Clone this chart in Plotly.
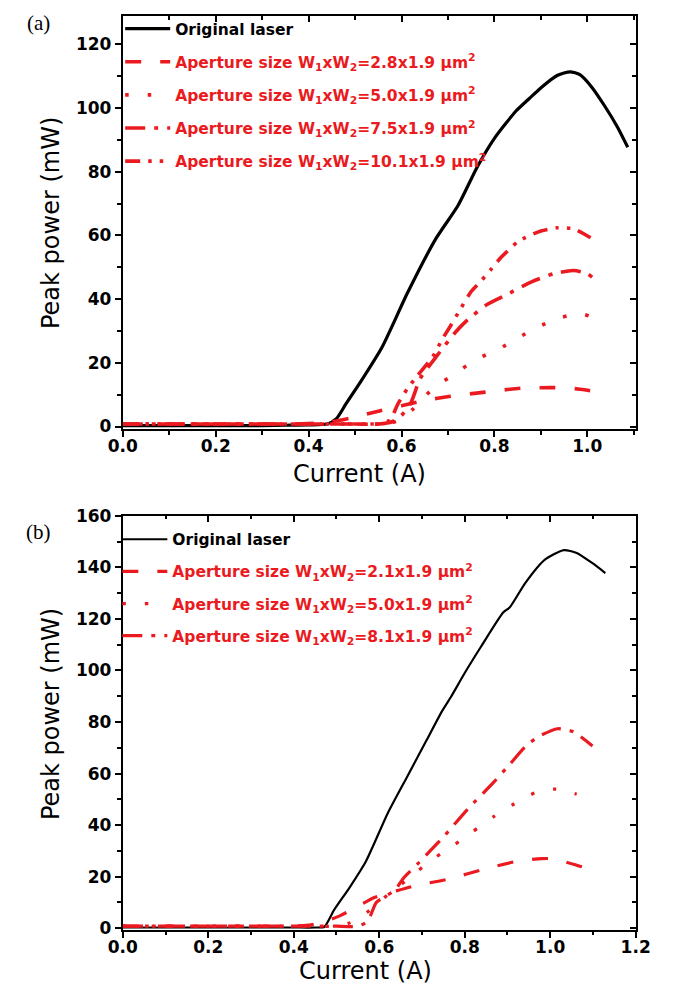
import plotly.graph_objects as go

RED = "#ea1a20"
BLACK = "#000000"

# ---------------- (a) ----------------
cur_a_orig = [0.00, 0.05, 0.10, 0.15, 0.20, 0.25, 0.30, 0.35, 0.40, 0.44, 0.46, 0.48, 0.51,
              0.558, 0.613, 0.674, 0.722, 0.763, 0.80, 0.846, 0.875, 0.901, 0.936, 0.963,
              0.984, 1.01, 1.038, 1.065, 1.087]
pow_a_orig = [0.3, 0.3, 0.3, 0.3, 0.3, 0.3, 0.3, 0.4, 0.5, 0.8, 2.5, 7.0, 13.6,
              24.9, 42.0, 59.0, 69.5, 81.5, 90.5, 99.0, 103.0, 106.5, 110.3, 111.4,
              110.5, 106.5, 100.5, 94.0, 87.7]

cur_a_28 = [0.00, 0.05, 0.10, 0.15, 0.20, 0.25, 0.30, 0.35, 0.40, 0.45, 0.50, 0.55, 0.60,
            0.65, 0.705, 0.78, 0.855, 0.93, 0.98, 1.025]
pow_a_28 = [0.8, 0.8, 0.8, 0.8, 0.8, 0.8, 0.8, 0.8, 0.9, 1.5, 3.0, 4.8, 6.5,
            8.2, 9.5, 10.8, 12.0, 12.2, 11.8, 10.8]

cur_a_50 = [0.00, 0.05, 0.10, 0.15, 0.20, 0.25, 0.30, 0.35, 0.40, 0.45, 0.50, 0.55, 0.58,
            0.60, 0.625, 0.65, 0.674, 0.716, 0.76, 0.808, 0.853, 0.894, 0.942, 0.987, 1.031]
pow_a_50 = [0.8, 0.8, 0.8, 0.8, 0.8, 0.8, 0.8, 0.8, 0.8, 0.8, 0.8, 0.8, 1.2,
            2.5, 5.5, 9.5, 12.6, 16.7, 21.0, 24.2, 28.0, 31.3, 34.2, 35.4, 33.0]

cur_a_75 = [0.00, 0.05, 0.10, 0.15, 0.20, 0.25, 0.30, 0.35, 0.40, 0.45, 0.50, 0.55, 0.58,
            0.60, 0.62, 0.64, 0.674, 0.716, 0.743, 0.784, 0.826, 0.881, 0.928, 0.97, 1.00, 1.025]
pow_a_75 = [0.8, 0.8, 0.8, 0.8, 0.8, 0.8, 0.8, 0.8, 0.8, 0.8, 0.8, 0.8, 1.5,
            3.5, 7.4, 15.0, 21.8, 29.6, 33.6, 38.3, 41.4, 45.5, 48.0, 49.0, 48.0, 45.0]

cur_a_101 = [0.00, 0.05, 0.10, 0.15, 0.20, 0.25, 0.30, 0.35, 0.40, 0.45, 0.50, 0.55, 0.575,
             0.592, 0.613, 0.633, 0.667, 0.688, 0.705, 0.726, 0.75, 0.77, 0.794, 0.815,
             0.853, 0.90, 0.935, 0.97, 1.007]
pow_a_101 = [0.8, 0.8, 0.8, 0.8, 0.8, 0.8, 0.8, 0.8, 0.8, 0.8, 0.8, 0.8, 2.0,
             7.0, 12.0, 15.7, 21.9, 27.5, 31.5, 36.7, 42.4, 45.5, 49.6, 53.2,
             58.3, 61.4, 62.4, 62.1, 59.3]

# ---------------- (b) ----------------
cur_b_orig = [0.00, 0.05, 0.10, 0.15, 0.20, 0.25, 0.30, 0.35, 0.40, 0.45, 0.472, 0.494, 0.531,
              0.569, 0.621, 0.666, 0.711, 0.748, 0.767, 0.80, 0.838, 0.89, 0.905, 0.942,
              0.987, 1.032, 1.062, 1.099, 1.129]
pow_b_orig = [0.3, 0.3, 0.3, 0.3, 0.3, 0.3, 0.3, 0.3, 0.3, 0.3, 0.6, 7.0, 15.9,
              26.0, 45.0, 59.0, 73.0, 84.5, 89.5, 99.0, 109.2, 122.5, 124.4, 134.0,
              142.9, 146.7, 145.6, 141.6, 137.8]

cur_b_21 = [0.00, 0.05, 0.10, 0.15, 0.20, 0.25, 0.30, 0.35, 0.40, 0.44, 0.47, 0.51, 0.55,
            0.59, 0.64, 0.684, 0.76, 0.845, 0.923, 0.98, 1.006, 1.03, 1.08, 1.10]
pow_b_21 = [0.8, 0.8, 0.8, 0.8, 0.8, 0.8, 0.8, 0.8, 0.9, 1.3, 2.5, 5.0, 8.5,
            12.0, 14.5, 16.5, 19.0, 22.9, 26.0, 27.0, 27.0, 26.0, 23.5, 22.0]

cur_b_50 = [0.00, 0.05, 0.10, 0.15, 0.20, 0.25, 0.30, 0.35, 0.40, 0.45, 0.50, 0.53, 0.57,
            0.62, 0.673, 0.718, 0.77, 0.819, 0.867, 0.916, 0.964, 1.013, 1.062]
pow_b_50 = [0.8, 0.8, 0.8, 0.8, 0.8, 0.8, 0.8, 0.8, 0.8, 0.8, 0.8, 2.0, 6.0,
            13.0, 19.8, 26.0, 31.7, 37.5, 43.2, 48.3, 52.5, 54.0, 52.0]

cur_b_81 = [0.00, 0.05, 0.10, 0.15, 0.20, 0.25, 0.30, 0.35, 0.40, 0.45, 0.50, 0.55, 0.573,
            0.593, 0.615, 0.636, 0.658, 0.69, 0.718, 0.748, 0.808, 0.867, 0.905, 0.942,
            0.972, 1.017, 1.054, 1.099]
pow_b_81 = [0.8, 0.8, 0.8, 0.8, 0.8, 0.8, 0.8, 0.8, 0.8, 0.8, 0.8, 0.8, 2.7,
            10.0, 12.5, 14.6, 19.7, 25.0, 29.8, 35.0, 46.4, 56.5, 63.5, 70.5,
            74.3, 77.4, 76.2, 70.7]

label_orig = "Original laser"
labels_a = ["2.8x1.9", "5.0x1.9", "7.5x1.9", "10.1x1.9"]
labels_b = ["2.1x1.9", "5.0x1.9", "8.1x1.9"]

ticks_x_a = [0.0, 0.2, 0.4, 0.6, 0.8, 1.0]
ticks_x_b = [0.0, 0.2, 0.4, 0.6, 0.8, 1.0, 1.2]
ticks_y_a = [0, 20, 40, 60, 80, 100, 120]
ticks_y_b = [0, 20, 40, 60, 80, 100, 120, 140, 160]


def aperture_name(size):
    return ('<span style="color:%s">Aperture size W<sub>1</sub>xW<sub>2</sub>=%s '
            'μm<sup>2</sup></span>' % (RED, size))


DASH = "16px,19px"
DOT = "3.5px,19px"
DASHDOT = "20px,9px,4px,9px"
DASHDOTDOT = "15px,8px,3.5px,8px,3.5px,8px"

fig = go.Figure()


def add(x, y, name, color, width, dash, xa, ya, leg, grp):
    fig.add_trace(go.Scatter(
        x=x, y=y, mode="lines", name=name,
        line=dict(color=color, width=width, dash=dash, shape="spline", smoothing=0.6),
        xaxis=xa, yaxis=ya, legend=leg, legendgroup=grp,
        hoverinfo="skip"))


add(cur_a_orig, pow_a_orig, label_orig, BLACK, 3.2, "solid", "x", "y", "legend", "a0")
add(cur_a_28, pow_a_28, aperture_name(labels_a[0]), RED, 3.6, DASH, "x", "y", "legend", "a1")
add(cur_a_50, pow_a_50, aperture_name(labels_a[1]), RED, 3.6, DOT, "x", "y", "legend", "a2")
add(cur_a_75, pow_a_75, aperture_name(labels_a[2]), RED, 3.6, DASHDOT, "x", "y", "legend", "a3")
add(cur_a_101, pow_a_101, aperture_name(labels_a[3]), RED, 3.6, DASHDOTDOT, "x", "y", "legend", "a4")

add(cur_b_orig, pow_b_orig, label_orig, BLACK, 2.2, "solid", "x2", "y2", "legend2", "b0")
add(cur_b_21, pow_b_21, aperture_name(labels_b[0]), RED, 3.2, DASH, "x2", "y2", "legend2", "b1")
add(cur_b_50, pow_b_50, aperture_name(labels_b[1]), RED, 3.2, DOT, "x2", "y2", "legend2", "b2")
add(cur_b_81, pow_b_81, aperture_name(labels_b[2]), RED, 3.2, DASHDOT, "x2", "y2", "legend2", "b3")

# empty traces so the mirrored (top/right) frame axes get drawn
for xa, ya in (("x3", "y3"), ("x4", "y4")):
    fig.add_trace(go.Scatter(x=[], y=[], xaxis=xa, yaxis=ya, showlegend=False,
                             hoverinfo="skip"))

W, H = 687, 1006
X_DOM = [112.7 / W, 649.0 / W]
Y_DOM_A = [1 - 426.7 / H, 1 - 6.5 / H]
Y_DOM_B = [1 - 936.7 / H, 1 - 515.0 / H]

TICKFONT = dict(family="DejaVu Sans", size=17, color="black", weight="bold")


def axis(rng, tickvals, fmt, minor_dtick, domain, anchor, inside=False, labels=True,
         overlaying=None, side=None, standoff=0):
    d = dict(
        range=rng, tickmode="array", tickvals=tickvals, tickformat=fmt,
        ticks="inside" if inside else "outside", ticklen=6, tickwidth=2,
        tickcolor="black", showline=True, linecolor="black", linewidth=2,
        showgrid=False, zeroline=False, showticklabels=labels,
        tickfont=TICKFONT, fixedrange=True, anchor=anchor,
        ticklabelstandoff=standoff,
        minor=dict(dtick=minor_dtick, tick0=0, ticks="inside" if inside else "outside",
                   ticklen=3.5, tickwidth=2, tickcolor="black", showgrid=False),
    )
    if overlaying:
        d["overlaying"] = overlaying
    else:
        d["domain"] = domain
    if side:
        d["side"] = side
    return d


XR_A = [0, 1.104]
YR_A = [-0.8, 128.8]
XR_B = [0, 1.2]
YR_B = [-0.65, 160]

LEGEND_FONT = dict(family="DejaVu Sans", size=15.5, color="black", weight="bold")

fig.update_layout(
    width=W, height=H,
    margin=dict(l=0, r=0, t=0, b=0),
    paper_bgcolor="white", plot_bgcolor="white",
    showlegend=True,
    xaxis=axis(XR_A, ticks_x_a, ".1f", 0.1, X_DOM, "y", standoff=-5),
    yaxis=axis(YR_A, ticks_y_a, "d", 10, Y_DOM_A, "x"),
    xaxis3=axis(XR_A, ticks_x_a, ".1f", 0.1, None, "y3", inside=True, labels=False,
                overlaying="x", side="top"),
    yaxis3=axis(YR_A, ticks_y_a, "d", 10, None, "x3", inside=True, labels=False,
                overlaying="y", side="right"),
    xaxis2=axis(XR_B, ticks_x_b, ".1f", 0.1, X_DOM, "y2", standoff=-5),
    yaxis2=axis(YR_B, ticks_y_b, "d", 10, Y_DOM_B, "x2"),
    xaxis4=axis(XR_B, ticks_x_b, ".1f", 0.1, None, "y4", inside=True, labels=False,
                overlaying="x2", side="top"),
    yaxis4=axis(YR_B, ticks_y_b, "d", 10, None, "x4", inside=True, labels=False,
                overlaying="y2", side="right"),
    legend=dict(x=110 / W, y=1 - 2 / H, xanchor="left", yanchor="top",
                bgcolor="rgba(0,0,0,0)", borderwidth=0, traceorder="grouped",
                tracegroupgap=10, itemwidth=45, font=LEGEND_FONT),
    legend2=dict(x=107 / W, y=1 - 522 / H, xanchor="left", yanchor="top",
                 bgcolor="rgba(0,0,0,0)", borderwidth=0, traceorder="grouped",
                 tracegroupgap=9, itemwidth=45, font=LEGEND_FONT),
)

TITLE_FONT = dict(family="DejaVu Sans", size=24, color="black")
PANEL_FONT = dict(family="Liberation Serif", size=21, color="black")

annots = [
    dict(text="Current (A)", x=360 / W, y=1 - 472 / H, font=TITLE_FONT),
    dict(text="Current (A)", x=367 / W, y=1 - 979 / H, font=TITLE_FONT),
    dict(text="Peak power (mW)", x=37 / W, y=1 - 216.5 / H, font=TITLE_FONT, textangle=-90),
    dict(text="Peak power (mW)", x=37 / W, y=1 - 716.5 / H, font=TITLE_FONT, textangle=-90),
    dict(text="(a)", x=24.5 / W, y=1 - 13.5 / H, font=PANEL_FONT),
    dict(text="(b)", x=25 / W, y=1 - 532 / H, font=PANEL_FONT),
]
for a in annots:
    fig.add_annotation(xref="paper", yref="paper", xanchor="center", yanchor="middle",
                       showarrow=False, **a)

fig.write_html("out.html")
